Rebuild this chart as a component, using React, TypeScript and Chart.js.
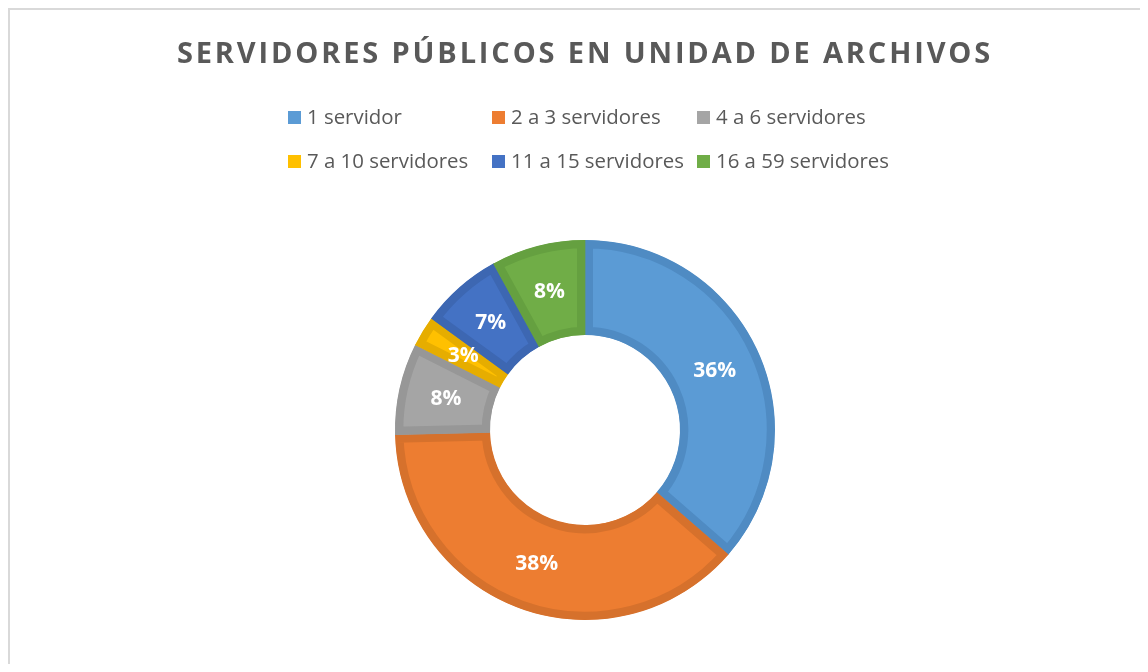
import React, { useEffect, useRef } from "react";
import { Chart, registerables } from "chart.js";

Chart.register(...registerables);

const chartTitle = "SERVIDORES PÚBLICOS EN UNIDAD DE ARCHIVOS";
const categories = [
  "1 servidor",
  "2 a 3 servidores",
  "4 a 6 servidores",
  "7 a 10 servidores",
  "11 a 15 servidores",
  "16 a 59 servidores",
];
const shares = [36.4, 38.2, 7.8, 2.6, 7.0, 8.0];
const fillColors = ["#5b9bd5", "#ed7d31", "#a5a5a5", "#ffc000", "#4472c4", "#70ad47"];
const edgeColors = ["#4f8bc3", "#d6712c", "#979797", "#e6ad00", "#3d67b2", "#65a040"];

const FONT = "'Open Sans', 'DejaVu Sans', sans-serif";

const titleSpacing = {
  id: "titleSpacing",
  beforeDraw(chart: any) {
    (chart.ctx as any).letterSpacing = "2.85px";
  },
  afterDraw(chart: any) {
    (chart.ctx as any).letterSpacing = "0px";
  },
};

const gridLegend = {
  id: "gridLegend",
  afterDraw(chart: any) {
    const ctx = chart.ctx;
    const cx = (chart.chartArea.left + chart.chartArea.right) / 2;
    const colX = [-297, -93, 112];
    const rowY = [107, 151];
    ctx.save();
    (ctx as any).letterSpacing = "0px";
    ctx.font = `20.4px ${FONT}`;
    ctx.textBaseline = "middle";
    ctx.textAlign = "left";
    categories.forEach((name, i) => {
      const x = cx + colX[i % 3];
      const y = rowY[Math.floor(i / 3)];
      ctx.fillStyle = fillColors[i];
      ctx.fillRect(x, y - 6, 13, 13);
      ctx.fillStyle = "#595959";
      ctx.fillText(name, x + 19, y + 1);
    });
    ctx.restore();
  },
};

const sliceLabels = {
  id: "sliceLabels",
  afterDatasetsDraw(chart: any) {
    const ctx = chart.ctx;
    const meta = chart.getDatasetMeta(0);
    const data = chart.data.datasets[0].data as number[];
    const total = data.reduce((a, b) => a + b, 0);
    ctx.save();
    (ctx as any).letterSpacing = "0px";
    ctx.font = `bold 21px ${FONT}`;
    ctx.fillStyle = "#ffffff";
    ctx.textAlign = "center";
    ctx.textBaseline = "middle";
    meta.data.forEach((arc: any, i: number) => {
      const p = arc.getCenterPoint();
      ctx.fillText(Math.round((data[i] / total) * 100) + "%", p.x, p.y);
    });
    ctx.restore();
  },
};

export default function App() {
  const ref = useRef<HTMLCanvasElement>(null);
  useEffect(() => {
    if (!ref.current) return;
    const chart = new Chart(ref.current, {
      type: "doughnut",
      data: {
        labels: categories,
        datasets: [
          {
            data: shares,
            backgroundColor: fillColors,
            borderColor: edgeColors,
            borderWidth: 8,
            borderAlign: "inner",
          } as any,
        ],
      },
      options: {
        animation: false,
        responsive: false,
        cutout: "50%",
        layout: { padding: { top: 0, bottom: 90 } },
        plugins: {
          legend: { display: false },
          tooltip: { enabled: false },
          title: {
            display: true,
            text: chartTitle,
            color: "#595959",
            font: { family: FONT, size: 29, weight: "bold", lineHeight: 1.2 },
            padding: { top: 27.5, bottom: 167.7 },
          },
        },
      },
      plugins: [titleSpacing, gridLegend, sliceLabels],
    });
    return () => chart.destroy();
  }, []);
  return (
    <div
      style={{
        position: "relative",
        width: 1132,
        height: 656,
        boxSizing: "border-box",
        overflow: "hidden",
        borderLeft: "2px solid #d9d9d9",
        borderTop: "2px solid #d9d9d9",
        background: "#ffffff",
      }}
    >
      <canvas
        ref={ref}
        width={1150}
        height={700}
        style={{ position: "absolute", left: 0, top: 0 }}
      />
    </div>
  );
}
